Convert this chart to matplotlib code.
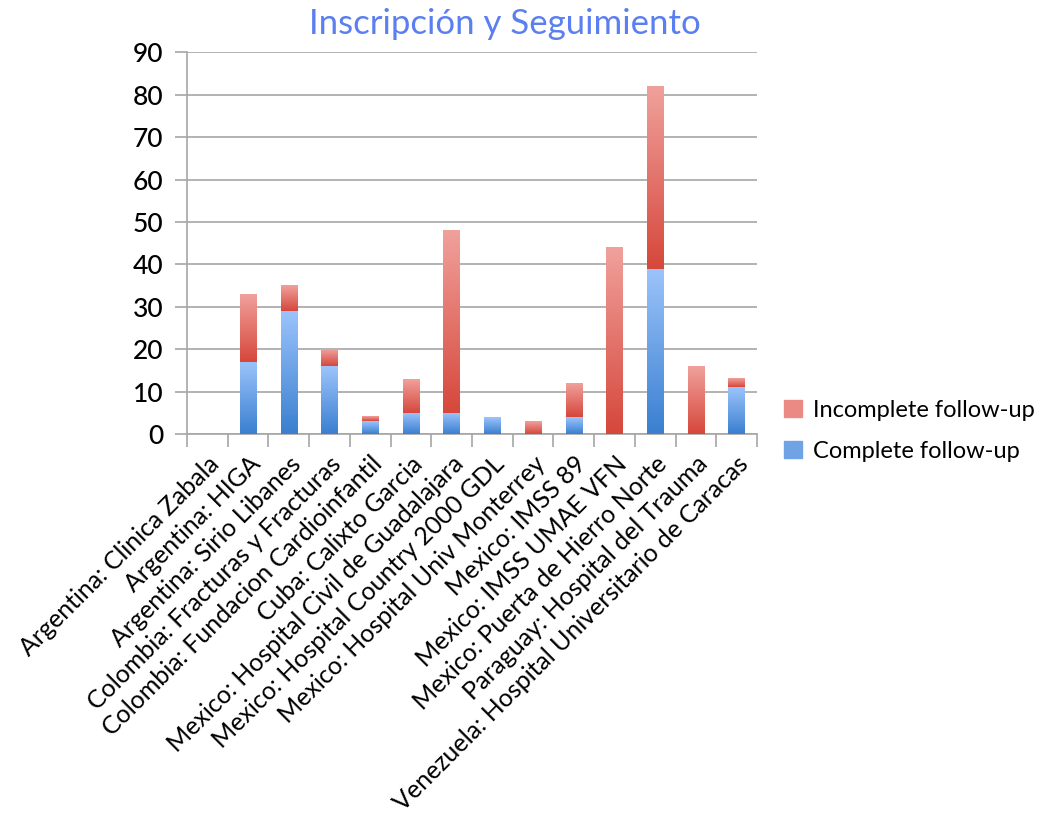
import numpy as np
import matplotlib
matplotlib.use("Agg")
import matplotlib.pyplot as plt
import matplotlib.patches as mpatches
from matplotlib.colors import LinearSegmentedColormap

plt.rcParams['font.family'] = ['Lato', 'DejaVu Sans']

# Données
sites = [
    "Argentina: Clinica Zabala",
    "Argentina: HIGA",
    "Argentina: Sirio Libanes",
    "Colombia: Fracturas y Fracturas",
    "Colombia: Fundacion Cardioinfantil",
    "Cuba: Calixto Garcia",
    "Mexico: Hospital Civil de Guadalajara",
    "Mexico: Hospital Country 2000 GDL",
    "Mexico: Hospital Univ Monterrey",
    "Mexico: IMSS 89",
    "Mexico: IMSS UMAE VFN",
    "Mexico: Puerta de Hierro Norte",
    "Paraguay: Hospital del Trauma",
    "Venezuela: Hospital Universitario de Caracas",
]
complete = [0, 17, 29, 16, 3, 5, 5, 4, 0, 4, 0, 39, 0, 11]
incomplete = [0, 16, 6, 4, 1, 8, 43, 0, 3, 8, 44, 43, 16, 2]

# Dégradés (bas foncé -> haut clair)
cmap_blue = LinearSegmentedColormap.from_list("b", ["#3a7fd0", "#9cc4fb"])
cmap_red = LinearSegmentedColormap.from_list("r", ["#d6473b", "#f0a19c"])
grad = np.linspace(0, 1, 256).reshape(-1, 1)

fig = plt.figure(figsize=(10.47, 8.16), dpi=100)
ax = fig.add_axes([0.1786, 0.468, 0.5444, 0.468])

x = np.arange(len(sites))
w = 0.4
bars_c = ax.bar(x, complete, w, color='none', linewidth=0)
bars_i = ax.bar(x, incomplete, w, bottom=complete, color='none', linewidth=0)

def fill_gradient(bars, cmap):
    for p in bars:
        if p.get_height() <= 0:
            continue
        x0, y0 = p.get_x(), p.get_y()
        ax.imshow(grad, extent=[x0, x0 + p.get_width(), y0, y0 + p.get_height()],
                  origin='lower', aspect='auto', cmap=cmap, zorder=3)

fill_gradient(bars_c, cmap_blue)
fill_gradient(bars_i, cmap_red)

ax.set_xlim(-0.5, len(sites) - 0.5)
ax.set_ylim(0, 90)
ax.set_yticks(np.arange(0, 91, 10))
ax.yaxis.grid(True, color='#a6a6a6', linewidth=1.2, zorder=0)
ax.set_axisbelow(True)

for s in ['top', 'right']:
    ax.spines[s].set_visible(False)
ax.spines['left'].set_color('#a6a6a6')
ax.spines['bottom'].set_color('#a6a6a6')
ax.spines['left'].set_linewidth(1.2)
ax.spines['bottom'].set_linewidth(1.2)

ax.tick_params(axis='y', length=9, width=1.2, color='#a6a6a6', labelsize=19, pad=8)
for t in ax.get_yticklabels():
    t.set_fontweight('medium')
ax.set_xticks(x)
ax.set_xticklabels(sites, rotation=45, ha='right', rotation_mode='anchor', fontsize=18)
ax.tick_params(axis='x', which='major', length=0, pad=13)
ax.set_xticks(np.arange(-0.5, len(sites), 1), minor=True)
ax.tick_params(axis='x', which='minor', length=9, width=1.2, color='#a6a6a6')

fig.text(0.482, 0.971, "Inscripción y Seguimiento", ha='center', va='center',
         fontsize=25, color='#5b7ff0')

handles = [mpatches.Patch(color='#eb8a85', label='Incomplete follow-up'),
           mpatches.Patch(color='#6fa3e6', label='Complete follow-up')]
fig.legend(handles=handles, loc='center left', bbox_to_anchor=(0.749, 0.472),
           frameon=False, fontsize=17, handlelength=0.75, handleheight=0.75,
           handletextpad=0.45, labelspacing=0.85, borderpad=0, borderaxespad=0)

fig.savefig("out.png", dpi=100, facecolor='white')
